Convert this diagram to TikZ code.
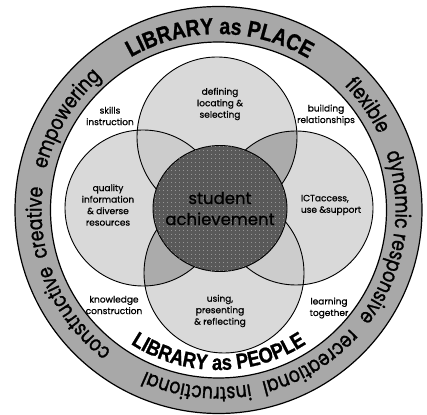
\documentclass[tikz,border=0pt]{standalone}
\usepackage{fontspec}
\setmainfont{Poppins}[FakeBold=0.8]
\newfontfamily\ringfont{Poppins}[FakeStretch=0.82, FakeBold=1.2]
\newfontfamily\placefont{Liberation Sans}[FakeStretch=0.85, FakeBold=1]
\usetikzlibrary{decorations.text, patterns.meta}
\definecolor{ringgray}{rgb}{0.66, 0.66, 0.66}
\definecolor{venngray}{rgb}{0.85, 0.85, 0.85}
\definecolor{overlapdark}{rgb}{0.67, 0.67, 0.67}
\definecolor{overlaplight}{rgb}{0.80, 0.80, 0.80}
\definecolor{achgray}{rgb}{0.35, 0.35, 0.35}

\newcommand\ringsty{\ringfont\fontsize{21pt}{21pt}\selectfont}
\newcommand\placesty{\placefont\bfseries\fontsize{23pt}{23pt}\selectfont}
\newcommand\peoplesty{\placefont\bfseries\fontsize{21.5pt}{21.5pt}\selectfont}

\tikzset{
    venn/.style={draw, line width=0.9pt},
    lbl/.style={font=\fontsize{9pt}{11.5pt}\selectfont, align=center, inner sep=0pt},
    ringword/.style={decorate, decoration={text along path, text align=center}},
}

\begin{document}
\begin{tikzpicture}[x=1pt, y=1pt]
                    \useasboundingbox (0,0) rectangle (427,414);
                    \fill[white] (0,0) rectangle (427,414);
                    \coordinate (O) at (218.5, 204);

                    % outer ring
                    \fill[ringgray, even odd rule] (O) circle[radius=203.5pt] (O) circle[radius=168pt];
                    \draw[line width=1.2pt] (O) circle[radius=203.5pt] (O) circle[radius=168pt];

                    % four circles
                    \coordinate (cT) at (217, 277);
                    \coordinate (cL) at (143, 206);
                    \coordinate (cR) at (296, 206);
                    \coordinate (cB) at (224, 141);
                    \fill[venngray] (cT) circle[radius=80pt];
                    \fill[venngray] (cL) circle[radius=78pt];
                    \fill[venngray] (cR) circle[radius=77pt];
                    \fill[venngray] (cB) circle[radius=80pt];
                    \begin{scope}
                        \clip (cT) circle[radius=80pt];
                        \fill[overlapdark] (cR) circle[radius=77pt];
                        \fill[overlaplight] (cL) circle[radius=78pt];
                    \end{scope}
                    \begin{scope}
                        \clip (cB) circle[radius=80pt];
                        \fill[overlapdark] (cL) circle[radius=78pt];
                        \fill[overlaplight] (cR) circle[radius=77pt];
                    \end{scope}
                    \draw[venn] (cT) circle[radius=80pt];
                    \draw[venn] (cL) circle[radius=78pt];
                    \draw[venn] (cR) circle[radius=77pt];
                    \draw[venn] (cB) circle[radius=80pt];

                    % centre
                    \coordinate (cA) at (220, 205.5);
                    \draw[line width=0.9pt, fill=achgray, postaction={pattern={Dots[distance=4pt, radius=0.45pt]}, pattern color=white!65!achgray}]
                        (cA) ellipse[x radius=67pt, y radius=63pt];
                    \node[align=center, inner sep=0pt, font=\fontsize{16.5pt}{21pt}\selectfont] (ach) at (cA) {student\\achievement};

                    % labels
                    \node[lbl] (defining) at (220, 310) {defining\\locating \&\\selecting};
                    \node[lbl] (quality) at (108, 209) {quality\\information\\\& diverse\\resources};
                    \node[lbl, align=left] (ict) at (331, 209) {ICTaccess,\\use \&support};
                    \node[lbl] (using) at (220, 103) {using,\\presenting\\\& reflecting};
                    \node[lbl] (skills) at (110, 298) {skills\\instruction};
                    \node[lbl] (building) at (326, 299) {building\\relationships};
                    \node[lbl] (knowledge) at (114, 109) {knowledge\\construction};
                    \node[lbl] (learning) at (329, 106) {learning\\together};

                    % words round the ring
                    \path[ringword, shift={(O)}, decoration={text={|\ringsty|creative}}] (224:177pt) arc[start angle=224, end angle=144, radius=177pt];
                    \path[ringword, shift={(O)}, decoration={text={|\ringsty|empowering}}] (189:177pt) arc[start angle=189, end angle=109, radius=177pt];
                    \path[ringword, shift={(O)}, decoration={text={|\placesty|LIBRARY as PLACE}}] (129.6:176pt) arc[start angle=129.6, end angle=49.6, radius=176pt];
                    \path[ringword, shift={(O)}, decoration={text={|\ringsty|flexible}}] (75:177pt) arc[start angle=75, end angle=-5, radius=177pt];
                    \path[ringword, shift={(O)}, decoration={text={|\ringsty|dynamic}}] (46.5:177pt) arc[start angle=46.5, end angle=-33.5, radius=177pt];
                    \path[ringword, shift={(O)}, decoration={text={|\ringsty|responsive}}] (17.5:177pt) arc[start angle=17.5, end angle=-62.5, radius=177pt];
                    \path[ringword, shift={(O)}, decoration={text={|\ringsty|recreational}}] (-19:177pt) arc[start angle=-19, end angle=-99, radius=177pt];
                    \path[ringword, shift={(O)}, decoration={text={|\ringsty|instructional}}] (-57:177pt) arc[start angle=-57, end angle=-137, radius=177pt];
                    \path[ringword, shift={(O)}, decoration={text={|\ringsty|constructive}}] (-104.5:177pt) arc[start angle=-104.5, end angle=-184.5, radius=177pt];

                    \path[ringword, shift={(O)}, decoration={text={|\peoplesty|LIBRARY as PEOPLE}}] (230:160pt) arc[start angle=230, end angle=310, radius=160pt];
            \end{tikzpicture}
\end{document}
